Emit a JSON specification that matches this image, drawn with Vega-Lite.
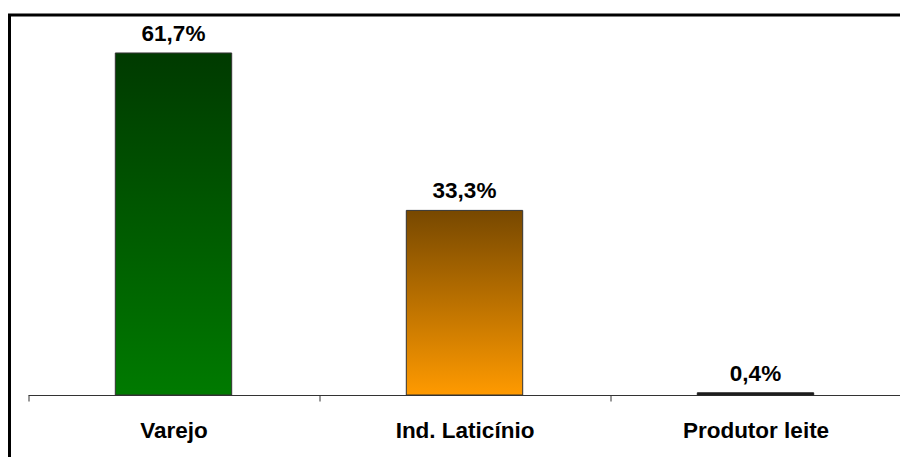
{
  "$schema": "https://vega.github.io/schema/vega-lite/v6.json",
  "autosize": "none",
  "padding": {"left": 9.5, "top": 15, "right": 0, "bottom": 0},
  "width": 900,
  "height": 460,
  "background": "white",
  "data": {
    "values": [
      {"categoria": "Varejo", "valor": 61.7, "rotulo": "61,7%"},
      {"categoria": "Ind. Laticínio", "valor": 33.3, "rotulo": "33,3%"},
      {"categoria": "Produtor leite", "valor": 0.4, "rotulo": "0,4%"}
    ]
  },
  "encoding": {
    "x": {
      "field": "categoria",
      "type": "nominal",
      "scale": {
        "domain": ["Varejo", "Ind. Laticínio", "Produtor leite"],
        "range": [18.5, 891.5],
        "paddingInner": 0,
        "paddingOuter": 0
      },
      "axis": {
        "title": null,
        "orient": "bottom",
        "offset": -80,
        "tickBand": "extent",
        "tickSize": 6,
        "tickColor": "#333333",
        "domainColor": "#333333",
        "domainWidth": 1.2,
        "labelAngle": 0,
        "labelFont": "Liberation Sans",
        "labelFontSize": 22.5,
        "labelFontWeight": "bold",
        "labelColor": "black",
        "labelBaseline": "alphabetic",
        "labelPadding": 36
      }
    },
    "y": {
      "field": "valor",
      "type": "quantitative",
      "scale": {"domain": [0, 68.55], "range": [380, 0], "nice": false, "zero": true},
      "axis": null
    }
  },
  "layer": [
    {
      "transform": [{"filter": "datum.categoria === 'Varejo'"}],
      "mark": {
        "type": "bar",
        "width": {"band": 0.4},
        "stroke": "#333333",
        "strokeWidth": 1,
        "color": {
          "gradient": "linear", "x1": 0, "y1": 0, "x2": 0, "y2": 1,
          "stops": [{"offset": 0, "color": "#003a00"}, {"offset": 1, "color": "#007a00"}]
        }
      }
    },
    {
      "transform": [{"filter": "datum.categoria === 'Ind. Laticínio'"}],
      "mark": {
        "type": "bar",
        "width": {"band": 0.4},
        "stroke": "#333333",
        "strokeWidth": 1,
        "color": {
          "gradient": "linear", "x1": 0, "y1": 0, "x2": 0, "y2": 1,
          "stops": [{"offset": 0, "color": "#774800"}, {"offset": 1, "color": "#ff9a00"}]
        }
      }
    },
    {
      "transform": [{"filter": "datum.categoria === 'Produtor leite'"}],
      "mark": {
        "type": "bar",
        "width": {"band": 0.4},
        "stroke": "#222222",
        "strokeWidth": 1,
        "color": "#1a1a1a"
      }
    },
    {
      "mark": {
        "type": "text",
        "font": "Liberation Sans",
        "fontSize": 22.5,
        "fontWeight": "bold",
        "color": "black",
        "baseline": "alphabetic",
        "dy": -12
      },
      "encoding": {"text": {"field": "rotulo"}}
    }
  ],
  "config": {
    "view": {"stroke": "black", "strokeWidth": 3}
  }
}
